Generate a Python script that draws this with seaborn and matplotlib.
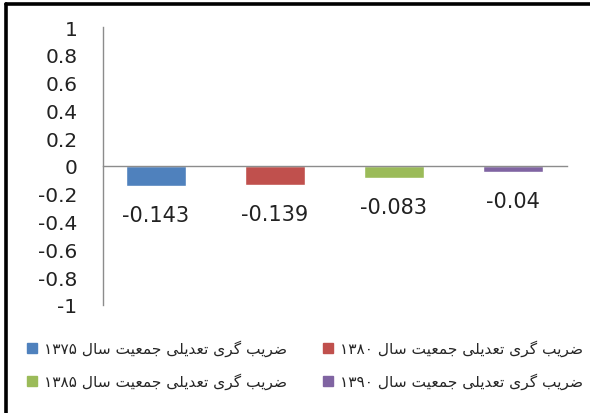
import numpy as np
import pandas as pd
import seaborn as sns
import matplotlib
matplotlib.use("Agg")
import matplotlib.pyplot as plt
from matplotlib.lines import Line2D

# Series (Persian, logical order) and their values
series_text = [
    "ضریب گری تعدیلی جمعیت سال",
    "ضریب گری تعدیلی جمعیت سال",
    "ضریب گری تعدیلی جمعیت سال",
    "ضریب گری تعدیلی جمعیت سال",
]
years = ["۱۳۷۵", "۱۳۸۰", "۱۳۸۵", "۱۳۹۰"]
values = [-0.143, -0.139, -0.083, -0.04]
colors = ["#4F81BD", "#C0504D", "#9BBB59", "#8064A2"]
yticks = [1, 0.8, 0.6, 0.4, 0.2, 0, -0.2, -0.4, -0.6, -0.8, -1]

# Contextual forms: isolated, final, initial, medial
FORMS = {
    "ا": ("\uFE8D", "\uFE8E", None, None),
    "ب": ("\uFE8F", "\uFE90", "\uFE91", "\uFE92"),
    "ت": ("\uFE95", "\uFE96", "\uFE97", "\uFE98"),
    "ج": ("\uFE9D", "\uFE9E", "\uFE9F", "\uFEA0"),
    "د": ("\uFEA9", "\uFEAA", None, None),
    "ر": ("\uFEAD", "\uFEAE", None, None),
    "س": ("\uFEB1", "\uFEB2", "\uFEB3", "\uFEB4"),
    "ض": ("\uFEBD", "\uFEBE", "\uFEBF", "\uFEC0"),
    "ع": ("\uFEC9", "\uFECA", "\uFECB", "\uFECC"),
    "ل": ("\uFEDD", "\uFEDE", "\uFEDF", "\uFEE0"),
    "م": ("\uFEE1", "\uFEE2", "\uFEE3", "\uFEE4"),
    "گ": ("\uFB92", "\uFB93", "\uFB94", "\uFB95"),
    "ی": ("\uFBFC", "\uFBFD", "\uFBFE", "\uFBFF"),
}


def shape_rtl(text):
    """Join Persian letters into their contextual forms and return visual order."""
    out = []
    n = len(text)
    for i, ch in enumerate(text):
        if ch not in FORMS:
            out.append(ch)
            continue
        prev_join = i > 0 and text[i - 1] in FORMS and FORMS[text[i - 1]][2] is not None
        next_join = (FORMS[ch][2] is not None and i < n - 1 and text[i + 1] in FORMS)
        iso, fin, ini, med = FORMS[ch]
        if prev_join and next_join:
            out.append(med)
        elif prev_join:
            out.append(fin)
        elif next_join:
            out.append(ini)
        else:
            out.append(iso)
    return "".join(reversed(out))


labels = [y + " " + shape_rtl(t) for t, y in zip(series_text, years)]

df = pd.DataFrame({"series": labels, "value": values})

sns.set_style("white")
plt.rcParams["font.family"] = ["DejaVu Sans"]

fig = plt.figure(figsize=(5.9, 4.14), dpi=100)
ax = fig.add_axes([103 / 590, 1 - 306 / 414, (567 - 103) / 590, (306 - 28) / 414])

sns.barplot(data=df, x="series", y="value", hue="series", palette=colors,
            width=0.5, dodge=False, saturation=1, legend=False, ax=ax)

ax.set_xlim(-0.445, 3.454)
ax.set_ylim(-1, 1)
ax.set_yticks(yticks)
ax.set_yticklabels([f"{t:g}" for t in yticks], fontsize=14.5, color="#222222")
ax.tick_params(axis="y", length=0, pad=18.5)
ax.set_xticks([])
ax.set_xlabel("")
ax.set_ylabel("")

for side in ["top", "right"]:
    ax.spines[side].set_visible(False)
ax.spines["left"].set_color("#8c8c8c")
ax.spines["left"].set_linewidth(1)
ax.spines["bottom"].set_position(("data", 0))
ax.spines["bottom"].set_color("#8c8c8c")
ax.spines["bottom"].set_linewidth(1)

# Value labels below each bar
for i, v in enumerate(values):
    ax.annotate(f"{v:g}", xy=(i, v), xytext=(0, -21), textcoords="offset points",
                ha="center", va="center", fontsize=15, color="#222222")

# Legend: two columns, two rows
order = [0, 2, 1, 3]
handles = [Line2D([], [], marker="s", linestyle="none", markersize=6.8,
                  color=colors[i]) for i in order]
fig.legend(handles, [labels[i] for i in order], ncol=2, loc="center left",
           bbox_to_anchor=(13 / 590, 1 - 365.5 / 414), frameon=False,
           fontsize=11.1, handlelength=0.6, handletextpad=0.48,
           columnspacing=2.4, labelspacing=1.05)

# Black frame on left and top edges
fig.add_artist(Line2D([6 / 590, 6 / 590], [0, 1 - 5 / 414], color="black",
                      lw=2.6, transform=fig.transFigure))
fig.add_artist(Line2D([6 / 590, 1], [1 - 5 / 414, 1 - 5 / 414], color="black",
                      lw=2.6, transform=fig.transFigure))

fig.savefig("out.png", dpi=100)
